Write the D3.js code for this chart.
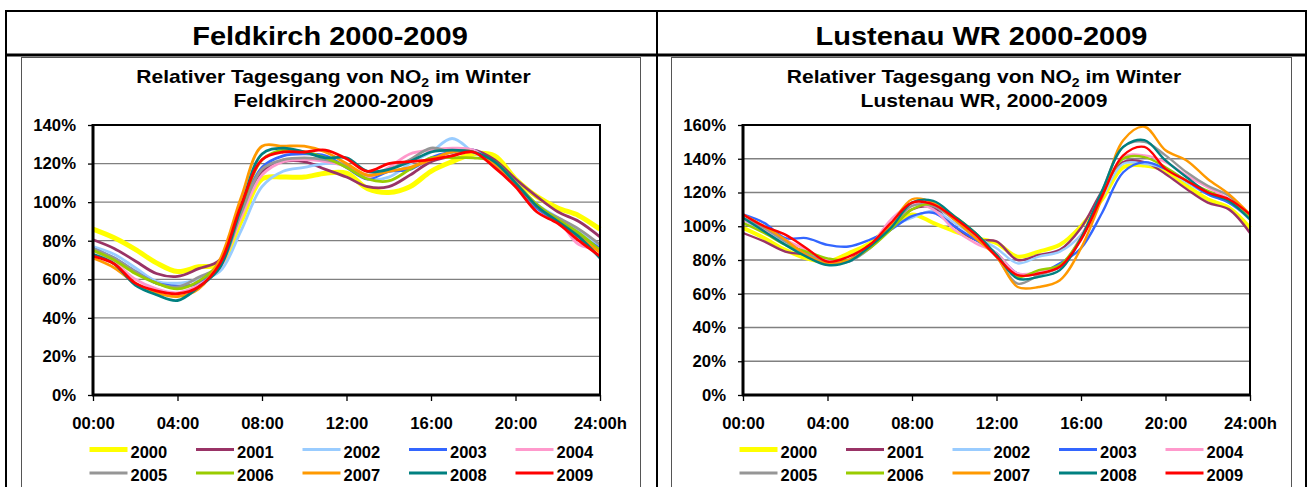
<!DOCTYPE html>
<html>
<head>
<meta charset="utf-8">
<script src="https://cdn.jsdelivr.net/npm/d3@7"></script>
<style>
  body { margin: 0; background: #fff; }
  svg text { font-family: "Liberation Sans", Arial, sans-serif; font-weight: bold; fill: #000; }
</style>
</head>
<body>
<script>
// hours 0..24, one value per hour (relative NO2 in %)
var hours = d3.range(0, 25);
var years = ["2000", "2001", "2002", "2003", "2004", "2005", "2006", "2007", "2008", "2009"];
var colors = ["#ffff00", "#993366", "#99ccff", "#3366ff", "#ff99cc", "#969696", "#99cc00", "#ff9900", "#008080", "#ff0000"];
var xTicks = [0, 4, 8, 12, 16, 20, 24];
var xLabels = ["00:00", "04:00", "08:00", "12:00", "16:00", "20:00", "24:00h"];
var yTicksFeldkirch = [0, 20, 40, 60, 80, 100, 120, 140];
var yTicksLustenau = [0, 20, 40, 60, 80, 100, 120, 140, 160];

var feldkirch = [
    [86, 81.5, 75.5, 68.5, 64, 66.5, 68, 90, 112, 113, 113, 115, 115, 107, 105, 108, 116, 121, 125, 124, 112, 103, 97, 93, 86],
    [80.5, 76, 69.5, 63, 61.5, 65.5, 70, 95, 116, 121, 121, 117, 113, 108, 108, 114, 121, 124, 127, 122, 112, 103, 95, 90, 82],
    [77, 73, 66, 59, 58, 60, 64, 85, 108, 116, 118, 120, 119, 112, 113, 120, 126, 133, 126, 120, 110, 99, 92, 85, 77],
    [76, 71, 64, 58, 56.5, 58, 68, 96, 118, 124, 125, 124, 118, 112, 116, 117, 123, 126, 127, 119, 109, 97, 90, 83, 76],
    [75, 69, 60, 55, 53, 57, 66, 92, 114, 121, 122, 121, 118.5, 113, 118, 125, 127, 128, 127, 119, 110, 98, 91, 78, 76],
    [76, 71, 64, 58, 56, 61, 67, 94, 117, 122, 123, 122, 119, 114, 117, 122, 128, 126, 126, 119, 110, 98, 92, 86, 78],
    [75, 70, 63, 58, 55, 59, 69, 97, 122, 127, 126, 123, 118, 112, 111, 117, 123, 123, 123, 121, 110, 99, 91, 84, 75],
    [71, 66, 58, 53, 51, 55, 70, 102, 129, 129, 129, 126, 120, 114, 116, 118, 122, 126, 126, 120, 110, 98, 90, 82, 74],
    [73, 68, 57, 52, 49, 56, 66, 97, 125, 128, 126, 123, 123, 116, 117, 121, 126, 127, 126, 121, 110, 98, 90, 82, 71],
    [72, 68, 58, 54, 52.5, 56, 68, 98, 122, 126, 126, 127, 122.5, 116, 120, 121, 122, 124, 126, 118, 108, 95, 89, 80, 72]
];

var lustenau = [
    [99, 93, 86, 81, 79, 84, 90, 100, 107, 102, 97, 93, 90, 82, 85, 89, 100, 116, 135, 136, 133, 124, 116, 111, 99],
    [96, 91, 85, 83, 78, 80, 89, 98, 110, 111, 100, 92, 91, 80, 83, 86, 99, 121, 138, 138, 131, 122, 114, 110, 96],
    [104, 97, 90, 84, 79, 79, 87, 99, 105, 109, 102, 94, 87, 78, 82, 85, 95, 117, 137, 137, 134, 126, 119, 114, 104],
    [107, 102, 93, 93, 89, 88, 92, 98, 106, 108, 100, 92, 84, 72, 72, 78, 87, 108, 132, 138, 134, 127, 119, 114, 105],
    [104, 98, 92, 86, 80, 80, 88, 104, 113, 110, 98, 90, 84, 72, 73, 76, 94, 119, 141, 142, 138, 130, 123, 116, 105],
    [105, 99, 91, 84, 79, 79, 87, 99, 112, 112, 104, 95, 82, 66, 71, 76, 93, 121, 147, 150, 142, 132, 124, 118, 106],
    [102, 96, 89, 85, 81, 80, 87, 98, 110, 113, 106, 96, 83, 70, 74, 77, 93, 119, 140, 141, 135, 127, 121, 115, 105],
    [107, 100, 92, 83, 78, 80, 88, 101, 116, 114, 104, 93, 82, 64, 64, 68, 87, 117, 151, 159, 145, 139, 128, 119, 107],
    [105, 97, 89, 82, 77, 79, 88, 99, 114, 115, 106, 96, 83, 69, 70, 74, 93, 121, 147, 151, 139, 129, 120, 115, 104],
    [107, 100, 95, 87, 79, 82, 89, 102, 114, 113, 105, 95, 82, 71, 72, 76, 92, 118, 142, 147, 134, 127, 120, 116, 107]
];

var width = 1312;
var height = 487;

var svg = d3.select("body").append("svg").attr("width", width).attr("height", height);

// outer table
var table = svg.append("g").attr("fill", "none").attr("stroke", "#000");
table.append("line").attr("x1", 5).attr("x2", 1307).attr("y1", 11).attr("y2", 11).attr("stroke-width", 2);
table.append("line").attr("x1", 5).attr("x2", 1307).attr("y1", 55).attr("y2", 55).attr("stroke-width", 3);
table.append("line").attr("x1", 6).attr("x2", 6).attr("y1", 10).attr("y2", 490).attr("stroke-width", 2);
table.append("line").attr("x1", 657).attr("x2", 657).attr("y1", 10).attr("y2", 490).attr("stroke-width", 2);
table.append("line").attr("x1", 1306).attr("x2", 1306).attr("y1", 10).attr("y2", 490).attr("stroke-width", 2);

function stretchedText(g, x, y, size, sx, str) {
    return g.append("text")
        .attr("transform", "translate(" + x + "," + y + ") scale(" + sx + ",1)")
        .attr("text-anchor", "middle")
        .style("font-size", size + "px")
        .text(str);
}

function drawPanel(opts) {
    var g = svg.append("g");
    var cx = (opts.boxLeft + opts.boxRight) / 2;

    stretchedText(g, opts.headerX, 45, 25, 1.16, opts.header);

    g.append("rect")
        .attr("x", opts.boxLeft + 0.5).attr("y", 57.5)
        .attr("width", opts.boxRight - opts.boxLeft).attr("height", 440)
        .attr("fill", "#fff").attr("stroke", "#555").attr("stroke-width", 1);

    var sub = g.append("text")
        .attr("transform", "translate(" + (cx + 3) + ",82.5) scale(1.17,1)")
        .attr("text-anchor", "middle")
        .style("font-size", "18px");
    sub.append("tspan").text("Relativer Tagesgang von NO");
    sub.append("tspan").attr("dy", 4).style("font-size", "12px").text("2");
    sub.append("tspan").attr("dy", -4).text(" im Winter");
    stretchedText(g, cx + 3, 106.5, 18, 1.17, opts.subtitle);

    var left = opts.boxLeft + 72;
    var right = left + 507;
    var top = 125;
    var bottom = 395;

    var x = d3.scaleLinear().domain([0, 24]).range([left, right]);
    var y = d3.scaleLinear().domain([0, d3.max(opts.yTicks)]).range([bottom, top]);

    // gridlines
    g.append("g").selectAll("line").data(opts.yTicks.slice(1)).enter().append("line")
        .attr("x1", left).attr("x2", right)
        .attr("y1", function (d) { return y(d); }).attr("y2", function (d) { return y(d); })
        .attr("stroke", "#808080").attr("stroke-width", 1.3);

    var yAxis = d3.axisLeft(y).tickValues(opts.yTicks).tickSize(5).tickPadding(12)
        .tickFormat(function (d) { return d + "%"; });
    var xAxis = d3.axisBottom(x).tickValues(xTicks).tickSize(6).tickPadding(16)
        .tickFormat(function (d, i) { return xLabels[i]; });

    var ya = g.append("g").attr("transform", "translate(" + left + ",0)").call(yAxis);
    var xa = g.append("g").attr("transform", "translate(0," + bottom + ")").call(xAxis);
    [ya, xa].forEach(function (a) {
        a.select(".domain").remove();
        a.selectAll(".tick line").attr("stroke", "#000").attr("stroke-width", 1.3);
        a.selectAll("text").style("font-size", "16.7px").attr("fill", "#000");
    });

    var line = d3.line()
        .x(function (d, i) { return x(hours[i]); })
        .y(function (d) { return y(d); })
        .curve(d3.curveCatmullRom.alpha(0.5));

    g.append("g").selectAll("path").data(opts.series).enter().append("path")
        .attr("d", line)
        .attr("fill", "none")
        .attr("stroke", function (d, i) { return colors[i]; })
        .attr("stroke-width", function (d, i) { return i === 0 ? opts.thick : opts.thin; })
        .attr("stroke-linejoin", "round");

    // plot frame and axis lines
    g.append("rect").attr("x", left).attr("y", top).attr("width", right - left).attr("height", bottom - top)
        .attr("fill", "none").attr("stroke", "#000").attr("stroke-width", 2);
    g.append("line").attr("x1", left).attr("x2", left).attr("y1", top - 1).attr("y2", bottom + 1)
        .attr("stroke", "#000").attr("stroke-width", 3);
    g.append("line").attr("x1", left - 1).attr("x2", right + 1).attr("y1", bottom).attr("y2", bottom)
        .attr("stroke", "#000").attr("stroke-width", 3);

    // legend
    var leg = g.append("g").selectAll("g").data(years).enter().append("g")
        .attr("transform", function (d, i) {
            return "translate(" + (left - 3.5 + (i % 5) * 106.5) + "," + (Math.floor(i / 5) * 23.5) + ")";
        });
    leg.append("line")
        .attr("x1", 0).attr("x2", 38).attr("y1", 449.5).attr("y2", 449.5)
        .attr("stroke", function (d, i) { return colors[i]; })
        .attr("stroke-width", function (d, i) { return i === 0 ? 5 : 3; });
    leg.append("text").attr("x", 41).attr("y", 457.5).style("font-size", "16.5px")
        .text(function (d) { return d; });
}

drawPanel({
    header: "Feldkirch 2000-2009",
    headerX: 330,
    subtitle: "Feldkirch 2000-2009",
    boxLeft: 21, boxRight: 640,
    yTicks: yTicksFeldkirch,
    series: feldkirch,
    thick: 5, thin: 2.8
});

drawPanel({
    header: "Lustenau WR 2000-2009",
    headerX: 981.5,
    subtitle: "Lustenau WR, 2000-2009",
    boxLeft: 671, boxRight: 1291,
    yTicks: yTicksLustenau,
    series: lustenau,
    thick: 4, thin: 2.4
});
</script>
</body>
</html>
